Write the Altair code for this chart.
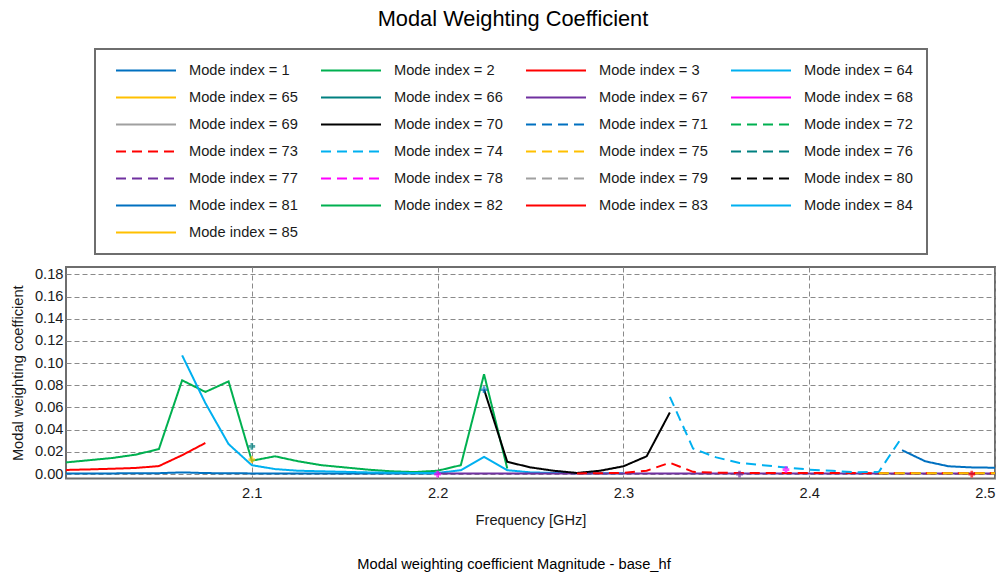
import altair as alt
import pandas as pd

FONT = "Liberation Sans"

TITLE = "Modal Weighting Coefficient"
FOOTER = "Modal weighting coefficient Magnitude - base_hf"
X_TITLE = "Frequency [GHz]"
Y_TITLE = "Modal weighting coefficient"

FREQ = [2.0, 2.0125, 2.025, 2.0375, 2.05, 2.0625, 2.075, 2.0875, 2.1, 2.1125,
        2.125, 2.1375, 2.15, 2.1625, 2.175, 2.1875, 2.2, 2.2125, 2.225, 2.2375,
        2.25, 2.2625, 2.275, 2.2875, 2.3, 2.3125, 2.325, 2.3375, 2.35, 2.3625,
        2.375, 2.3875, 2.4, 2.4125, 2.425, 2.4375, 2.45, 2.4625, 2.475, 2.4875, 2.5]

MODES = [1, 2, 3, 64, 65, 66, 67, 68, 69, 70, 71, 72, 73, 74, 75, 76, 77, 78,
         79, 80, 81, 82, 83, 84, 85]
MODE_COLORS = ["#0070c0", "#00b050", "#ff0000", "#00b0f0", "#ffc000", "#008080",
               "#7030a0", "#ff00ff", "#a0a0a0", "#000000",
               "#0070c0", "#00b050", "#ff0000", "#00b0f0", "#ffc000", "#008080",
               "#7030a0", "#ff00ff", "#a0a0a0", "#000000",
               "#0070c0", "#00b050", "#ff0000", "#00b0f0", "#ffc000"]
DASHED_MODES = [71, 72, 73, 74, 75, 76, 77, 78, 79, 80]

# series: (first frequency index, values)
M1_START = 0
M1 = [0.0006, 0.0006, 0.0006, 0.0007, 0.0008, 0.0015, 0.0009, 0.0007, 0.0006,
      0.0006, 0.0006, 0.0006, 0.0006, 0.0006, 0.0006, 0.0006, 0.0006]
M2_START = 0
M2 = [0.0105, 0.0125, 0.0145, 0.0175, 0.0225, 0.0845, 0.074, 0.0835, 0.012,
      0.016, 0.0115, 0.008, 0.006, 0.004, 0.0025, 0.0018, 0.003, 0.008, 0.09, 0.005]
M3_START = 0
M3 = [0.0037, 0.0042, 0.0048, 0.0055, 0.0072, 0.017, 0.028]
M64_START = 5
M64 = [0.107, 0.064, 0.027, 0.008, 0.0045, 0.003, 0.0025, 0.002, 0.0015, 0.0012,
       0.001, 0.001, 0.0035, 0.0155, 0.0035, 0.0015, 0.001, 0.0008, 0.0008, 0.0008]
M67_START = 16
M67 = [0.0006, 0.0006, 0.0006, 0.0006, 0.0006, 0.0006, 0.0006, 0.0006, 0.0006,
       0.0006, 0.0006, 0.0006, 0.0006, 0.0006, 0.0006, 0.0006, 0.0006, 0.0006,
       0.0006, 0.0006, 0.0006, 0.0006, 0.0006, 0.0006, 0.0006]
M70_START = 18
M70 = [0.0762, 0.011, 0.006, 0.003, 0.001, 0.003, 0.007, 0.016, 0.0555]
M72_START = 35
M72 = [0.0008, 0.0008, 0.0008, 0.0008, 0.0008, 0.0008]
M73_START = 22
M73 = [0.0005, 0.0008, 0.001, 0.003, 0.0102, 0.002, 0.0012, 0.001, 0.001, 0.001,
       0.001, 0.0009, 0.0009, 0.0008, 0.0008, 0.0008, 0.0008, 0.0008, 0.0008]
M74_START = 26
M74 = [0.0696, 0.023, 0.015, 0.010, 0.008, 0.006, 0.004, 0.003, 0.0015, 0.002, 0.0335]
M75_START = 35
M75 = [0.0007, 0.0007, 0.0007, 0.0007, 0.0007, 0.0007]
M81_START = 36
M81 = [0.0215, 0.0115, 0.007, 0.006, 0.0057]

SERIES = [(1, M1_START, M1), (2, M2_START, M2), (3, M3_START, M3),
          (64, M64_START, M64), (67, M67_START, M67), (70, M70_START, M70),
          (72, M72_START, M72), (73, M73_START, M73), (74, M74_START, M74),
          (75, M75_START, M75), (81, M81_START, M81)]

# single-point series drawn as markers
MARKER_MODES = [66, 65, 68, 71, 77, 78, 83]
MARKER_FREQ = [2.1, 2.1, 2.2, 2.225, 2.3625, 2.3875, 2.4875]
MARKER_VALUE = [0.025, 0.013, 0.0, 0.076, 0.0, 0.004, 0.0]

Y_TICKS = [0.0, 0.02, 0.04, 0.06, 0.08, 0.10, 0.12, 0.14, 0.16, 0.18]
X_TICKS = [2.1, 2.2, 2.3, 2.4, 2.5]


def label(m):
    return "Mode index = %d" % m


DOMAIN = [label(m) for m in MODES]
DASHES = [[10, 6] if m in DASHED_MODES else [1, 0] for m in MODES]

rows = []
for m, start, vals in SERIES:
    for k, v in enumerate(vals):
        rows.append({"mode": label(m), "freq": FREQ[start + k], "value": v})
df = pd.DataFrame(rows)

mk = pd.DataFrame({"mode": [label(m) for m in MARKER_MODES],
                   "freq": MARKER_FREQ, "value": MARKER_VALUE})

W, H = 929, 211.5
LEFT, TOP = 66, 267

x_enc = alt.X("freq:Q", scale=alt.Scale(domain=[2.0, 2.5], nice=False, zero=False),
              axis=alt.Axis(values=X_TICKS, tickCount=len(X_TICKS), format=".1f",
                            title=X_TITLE, labelPadding=7, titlePadding=12,
                            ticks=False, labelOverlap=False,
                            domain=False, gridDash=[5, 3], gridColor="#8a8a8a"))
y_enc = alt.Y("value:Q", scale=alt.Scale(domain=[-0.004, 0.1866], nice=False, zero=False),
              axis=alt.Axis(values=Y_TICKS, tickCount=len(Y_TICKS), format=".2f",
                            title=Y_TITLE, labelPadding=3, titlePadding=9,
                            ticks=False, labelOverlap=False,
                            domain=False, gridDash=[5, 3], gridColor="#8a8a8a"))

color_scale = alt.Scale(domain=DOMAIN, range=MODE_COLORS)
dash_scale = alt.Scale(domain=DOMAIN, range=DASHES)

legend = alt.Legend(title=None, orient="none", legendX=29, legendY=-218,
                    direction="horizontal", columns=4, symbolType="stroke",
                    symbolSize=3600, clipHeight=15,
                    symbolStrokeWidth=2, labelFont=FONT, labelFontSize=14.67,
                    labelColor="#1a1a1a", labelOffset=12, columnPadding=16,
                    rowPadding=11, padding=14, symbolOffset=6, labelLimit=0,
                    strokeColor="#6e6e6e", fillColor="white")

lines = alt.Chart(df).mark_line(strokeWidth=2, clip=True).encode(
    x=x_enc, y=y_enc,
    color=alt.Color("mode:N", scale=color_scale, legend=legend),
    strokeDash=alt.StrokeDash("mode:N", scale=dash_scale, legend=legend),
)

points = alt.Chart(mk).mark_point(shape="cross", filled=True, size=45, clip=True).encode(
    x="freq:Q", y="value:Q",
    color=alt.Color("mode:N", scale=color_scale, legend=None),
)

title = alt.Chart(pd.DataFrame({"t": [TITLE]})).mark_text(
    font=FONT, fontSize=21.8, color="#000000", baseline="middle", align="center"
).encode(text="t:N", x=alt.value(513 - LEFT), y=alt.value(19 - TOP))

footer = alt.Chart(pd.DataFrame({"t": [FOOTER]})).mark_text(
    font=FONT, fontSize=14.67, color="#000000", baseline="middle", align="center"
).encode(text="t:N", x=alt.value(514 - LEFT), y=alt.value(565 - TOP))

chart = alt.layer(lines, points, title, footer).properties(
    width=W, height=H,
    autosize=alt.AutoSizeParams(type="none"),
    padding={"left": LEFT, "top": TOP, "right": 1008 - LEFT - W, "bottom": 577 - TOP - H},
    background="white",
).configure_view(
    stroke="#6e6e6e", strokeWidth=2
).configure_axis(
    labelFont=FONT, titleFont=FONT, labelFontSize=14.67, titleFontSize=14.67,
    labelColor="#1a1a1a", titleColor="#1a1a1a", titleFontWeight="normal",
).configure_legend(
    strokeWidth=2
)

chart.save("out.html", embed_options={"renderer": "svg", "actions": False})
